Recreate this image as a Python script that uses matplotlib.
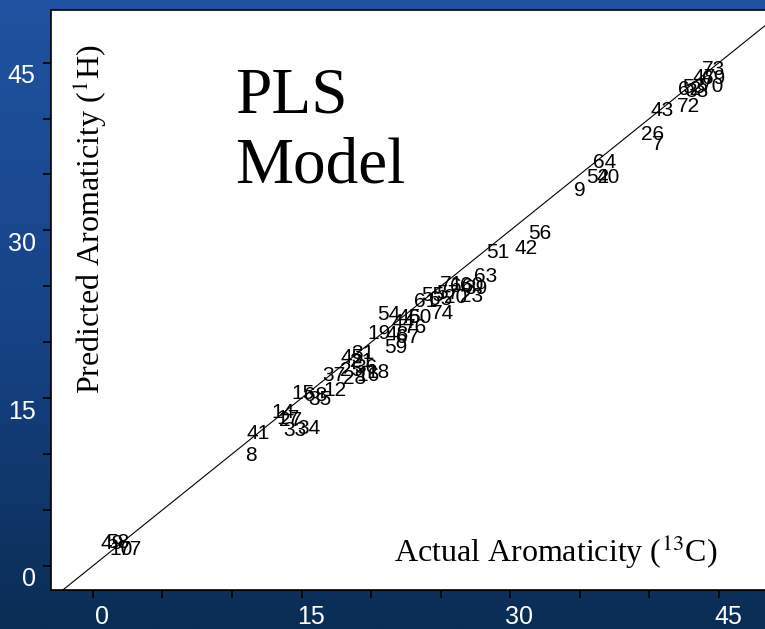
import numpy as np
import matplotlib
matplotlib.use("Agg")
import matplotlib.pyplot as plt
import matplotlib.transforms as mtransforms
from matplotlib.colors import LinearSegmentedColormap

# sample numbers with actual (13C) and predicted (1H) aromaticity
labels = ["73", "47", "69", "70", "62", "38", "53", "72", "43", "26", "7",
          "64", "52", "40", "9", "56", "42", "51", "63", "71", "66", "60",
          "39", "23", "55", "61", "65", "57", "20", "74", "54", "46", "50",
          "44", "76", "19", "48", "67", "59", "31", "45", "21", "36", "25",
          "18", "28", "37", "16", "12", "15", "35", "68", "14", "17", "27",
          "33", "34", "41", "8", "49", "58", "10", "77"]
actual = [44.6, 43.9, 44.6, 44.5, 42.9, 43.4, 43.2, 42.8, 40.9, 40.2, 40.6,
          36.8, 36.3, 37.0, 35.0, 32.1, 31.1, 29.1, 28.2, 25.8, 26.5, 27.2,
          27.5, 27.2, 24.4, 23.9, 25.0, 25.5, 26.1, 25.1, 21.3, 22.7, 23.5,
          22.3, 23.2, 20.6, 21.9, 22.6, 21.8, 19.4, 18.6, 19.3, 19.6, 18.6,
          20.5, 18.8, 17.3, 19.8, 17.4, 15.1, 16.3, 16.0, 13.7, 14.0, 14.2,
          14.5, 15.5, 11.9, 11.4, 1.4, 1.8, 2.0, 2.7]
predicted = [44.4, 43.7, 43.6, 42.9, 42.6, 42.4, 42.8, 41.1, 40.7, 38.6, 37.7,
             36.1, 34.7, 34.7, 33.6, 29.7, 28.4, 28.0, 25.9, 25.2, 25.0, 25.1,
             24.8, 24.1, 24.2, 23.6, 23.8, 24.4, 24.0, 22.6, 22.5, 22.2, 22.2,
             21.8, 21.3, 20.8, 20.7, 20.4, 19.5, 19.0, 18.6, 18.3, 17.7, 17.5,
             17.3, 16.8, 17.0, 17.0, 15.7, 15.4, 14.9, 15.2, 13.7, 13.2, 13.0,
             12.1, 12.3, 11.8, 9.9, 2.0, 2.1, 1.5, 1.5]

fig = plt.figure(figsize=(7.65, 6.29), dpi=100)

# slide background: blue fading to navy
bg = fig.add_axes([0, 0, 1, 1], zorder=-10)
cmap = LinearSegmentedColormap.from_list("slide", ["#1f52a0", "#174488", "#0a2d54"])
bg.imshow(np.linspace(0, 1, 256).reshape(-1, 1), aspect="auto", cmap=cmap,
          extent=[0, 1, 0, 1])
bg.axis("off")

ax = fig.add_axes([51 / 765, 39 / 629, 714 / 765, 580 / 629])
ax.set_facecolor("white")
ax.set_xlim(-3.0, 48.3)
ax.set_ylim(-2.15, 49.7)

ax.plot([-5, 55], [-5, 55], color="black", lw=0.8, zorder=1)

for lab, xv, yv in zip(labels, actual, predicted):
    ax.text(xv, yv, lab, ha="center", va="center", fontsize=15,
            family="Liberation Sans", color="black", zorder=2)

ax.text(10.2, 40.5, "PLS", fontsize=47, family="Liberation Serif",
        ha="left", va="baseline")
ax.text(10.2, 34.3, "Model", fontsize=47, family="Liberation Serif",
        ha="left", va="baseline")

plt.rcParams["mathtext.fontset"] = "stix"
ax.text(44.9, 1.3, r"Actual Aromaticity ($^{13}$C)", fontsize=23,
        family="Liberation Serif", ha="right", va="center")
ax.text(-0.2, 31.0, r"Predicted Aromaticity ($^{1}$H)", fontsize=23,
        family="Liberation Serif", ha="center", va="center", rotation=90)

ticks = np.arange(0, 50, 5)
ax.set_xticks(ticks)
ax.set_yticks(ticks)
fmt = lambda v, pos: "%d" % v if v % 15 == 0 else ""
ax.xaxis.set_major_formatter(plt.FuncFormatter(fmt))
ax.yaxis.set_major_formatter(plt.FuncFormatter(fmt))
ax.tick_params(direction="out", length=6, width=1.2, color="black",
               labelcolor="white", labelsize=18, pad=5)
for t in ax.get_xticklabels() + ax.get_yticklabels():
    t.set_family("Liberation Sans")

dx = mtransforms.ScaledTranslation(9 / 100, 0, fig.dpi_scale_trans)
dy = mtransforms.ScaledTranslation(0, -11 / 100, fig.dpi_scale_trans)
for t in ax.get_xticklabels():
    t.set_transform(t.get_transform() + dx)
for t in ax.get_yticklabels():
    t.set_transform(t.get_transform() + dy)

for side in ["left", "bottom", "top"]:
    ax.spines[side].set_linewidth(1.2)
ax.spines["right"].set_visible(False)

fig.savefig("out.png", dpi=100)
